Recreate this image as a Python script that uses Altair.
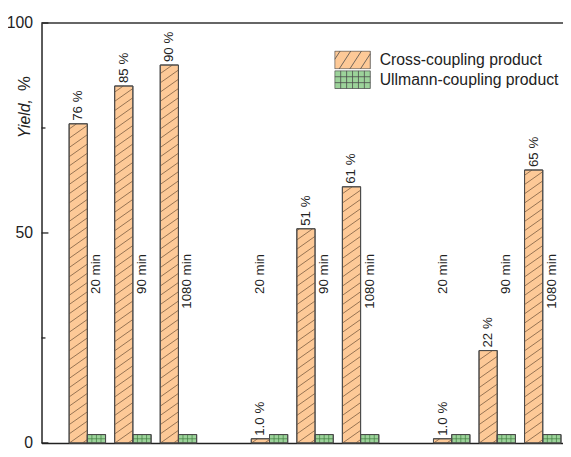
import altair as alt
import pandas as pd

# ---------------- data ----------------
groups = ["Catalyst 1", "Catalyst 2", "Catalyst 3"]
times = ["20 min", "90 min", "1080 min"]
cross = [76, 85, 90, 1.0, 51, 61, 1.0, 22, 65]
ullmann = [2, 2, 2, 2, 2, 2, 2, 2, 2]
cross_labels = ["76 %", "85 %", "90 %", "1.0 %", "51 %", "61 %", "1.0 %", "22 %", "65 %"]
series = ["Cross-coupling product", "Ullmann-coupling product"]
y_major = [0, 50, 100]
y_minor = [25, 75]

# ---------------- styles ----------------
FONT = "Liberation Sans"
ORANGE = "#FDC997"
GREEN = "#9CD39A"
EDGE = "#4a4a4a"
HATCH = "#7a5c40"
GRIDC = "#3f7d3f"
TXT = "#222222"
BAR_W = 0.4
TIME_Y = 45
RISE = 3.05
GAP = 2.2

rows = []
for gi, g in enumerate(groups):
    for ti, t in enumerate(times):
        i = gi * len(times) + ti
        slot = gi * (len(times) + 1) + ti
        rows.append(dict(
            group=g, time=t, slot=slot,
            xo0=slot - BAR_W, xo1=slot, xg0=slot, xg1=slot + BAR_W,
            cross=cross[i], ullmann=ullmann[i], plabel=cross_labels[i],
            px=slot - BAR_W / 2,
            tx=(slot - BAR_W / 2) if cross[i] < 5 else (slot + BAR_W / 2),
            ty=TIME_Y, zero=0,
        ))
df = pd.DataFrame(rows)

# hatch lines for cross-coupling bars
hatch = []
for r in rows:
    v = r["cross"]
    x0 = r["xo0"]
    yl = -RISE + 0.8
    while yl < v:
        xs_, ys_ = x0, yl
        xe_, ye_ = x0 + BAR_W, yl + RISE
        if ys_ < 0:
            xs_ = x0 + (0 - yl) / RISE * BAR_W
            ys_ = 0
        if ye_ > v:
            xe_ = x0 + (v - yl) / RISE * BAR_W
            ye_ = v
        if xe_ > xs_ + 1e-6:
            hatch.append(dict(a=xs_, b=xe_, c=ys_, d=ye_))
        yl += GAP
hatch_df = pd.DataFrame(hatch)

# grid lines for Ullmann bars
grid = []
for r in rows:
    u = r["ullmann"]
    for k in (1, 2, 3):
        xx = r["xg0"] + BAR_W * k / 4
        grid.append(dict(a=xx, b=xx, c=0, d=u))
    grid.append(dict(a=r["xg0"], b=r["xg1"], c=u / 2, d=u / 2))
grid_df = pd.DataFrame(grid)


# legend symbol paths
def hatch_path(run=0.65, step=0.6):
    parts = ["M-1,-0.5H1V0.5H-1Z"]
    c = -1 - run + step / 2
    while c < 1:
        x1, y1 = c, 0.5
        x2, y2 = c + run, -0.5
        if x1 < -1:
            y1 = 0.5 - (-1 - c) / run
            x1 = -1
        if x2 > 1:
            y2 = 0.5 - (1 - c) / run
            x2 = 1
        if x2 > x1:
            parts.append(f"M{x1:.3f},{y1:.3f}L{x2:.3f},{y2:.3f}")
        c += step
    return "".join(parts)


def grid_path():
    parts = ["M-1,-0.5H1V0.5H-1Z"]
    for k in range(1, 6):
        x = -1 + k / 3
        parts.append(f"M{x:.3f},-0.5L{x:.3f},0.5")
    for j in (1, 2):
        y = -0.5 + j / 3
        parts.append(f"M-1,{y:.3f}L1,{y:.3f}")
    return "".join(parts)


xs = alt.Scale(domain=[-1.006, 10.444], nice=False, zero=False)
ys = alt.Scale(domain=[0, 100], nice=False, zero=False)

x_axis = alt.Axis(labels=False, ticks=False, domain=True, grid=False, title=None,
                  domainColor=TXT, domainWidth=1.5)
y_axis = alt.Axis(values=y_major, ticks=False, tickSize=0, labelPadding=9,
                  labelFontSize=16, labelFont=FONT, labelColor=TXT,
                  domainColor=TXT, domainWidth=1.5, grid=False, title=None)


def X(f):
    return alt.X(f, scale=xs, axis=x_axis)


def Y(f):
    return alt.Y(f, scale=ys, axis=y_axis)


base = alt.Chart(df)

bars_c = base.mark_bar(fill=ORANGE, stroke=EDGE, strokeWidth=1).encode(
    x=X("xo0:Q"), x2="xo1:Q", y=Y("cross:Q"), y2="zero:Q",
)
bars_u = base.mark_bar(fill=GREEN, stroke=EDGE, strokeWidth=1).encode(
    x=X("xg0:Q"), x2="xg1:Q", y=Y("ullmann:Q"), y2="zero:Q",
)

hatch_l = alt.Chart(hatch_df).mark_rule(color=HATCH, strokeWidth=0.8).encode(
    x=X("a:Q"), x2="b:Q", y=Y("c:Q"), y2="d:Q",
)
grid_l = alt.Chart(grid_df).mark_rule(color=GRIDC, strokeWidth=0.7).encode(
    x=X("a:Q"), x2="b:Q", y=Y("c:Q"), y2="d:Q",
)

# bar outlines above the hatching
edge_c = base.mark_bar(fill=None, stroke=EDGE, strokeWidth=1, filled=False).encode(
    x=X("xo0:Q"), x2="xo1:Q", y=Y("cross:Q"), y2="zero:Q",
)
edge_u = base.mark_bar(fill=None, stroke=EDGE, strokeWidth=1, filled=False).encode(
    x=X("xg0:Q"), x2="xg1:Q", y=Y("ullmann:Q"), y2="zero:Q",
)

pct = base.mark_text(angle=270, align="left", baseline="middle", dx=3,
                     fontSize=13.5, font=FONT, color=TXT).encode(
    x=X("px:Q"), y=Y("cross:Q"), text="plabel:N",
)
tlab = base.mark_text(angle=270, align="right", baseline="middle",
                      fontSize=13.5, font=FONT, color=TXT).encode(
    x=X("tx:Q"), y=Y("ty:Q"), text="time:N",
)

top_df = pd.DataFrame({"top": [max(y_major)]})
top_rule = alt.Chart(top_df).mark_rule(color="#333333", strokeWidth=1.5).encode(
    y=Y("top:Q")
)

maj_df = pd.DataFrame({"v": y_major})
min_df = pd.DataFrame({"v": y_minor})
ticks_major = alt.Chart(maj_df).mark_rule(color=TXT, strokeWidth=1.3).encode(
    y=Y("v:Q"), x=alt.value(0), x2=alt.value(7)
)
ticks_minor = alt.Chart(min_df).mark_rule(color=TXT, strokeWidth=1.3).encode(
    y=Y("v:Q"), x=alt.value(0), x2=alt.value(4)
)

title1 = alt.Chart(pd.DataFrame({"t": ["Yield,"]})).mark_text(
    angle=270, align="left", baseline="middle", fontStyle="italic",
    fontSize=16, font=FONT, color=TXT).encode(
    x=alt.value(-17), y=alt.value(117), text="t:N")
title2 = alt.Chart(pd.DataFrame({"t": ["%"]})).mark_text(
    angle=270, align="left", baseline="middle",
    fontSize=17, font=FONT, color=TXT).encode(
    x=alt.value(-17), y=alt.value(69), text="t:N")

legend = alt.Legend(
    orient="none", legendX=297, legendY=28, title=None,
    symbolSize=1296, symbolStrokeColor=EDGE, symbolStrokeWidth=0.8,
    symbolOpacity=1, labelFontSize=16, labelFont=FONT, labelColor=TXT,
    labelOffset=9, labelLimit=400, rowPadding=1, clipHeight=19, padding=0,
)

leg_pts = alt.Chart(pd.DataFrame({"series": series})).mark_point(
    filled=True, strokeWidth=0.8).encode(
    x=alt.value(-500), y=alt.value(-500),
    fill=alt.Fill("series:N", scale=alt.Scale(domain=series, range=[ORANGE, GREEN]),
                  legend=legend),
    stroke=alt.Stroke("series:N", scale=alt.Scale(domain=series, range=[EDGE, EDGE]),
                      legend=legend),
    shape=alt.Shape("series:N",
                    scale=alt.Scale(domain=series, range=[hatch_path(), grid_path()]),
                    legend=legend),
)

chart = alt.layer(
    bars_c, bars_u, hatch_l, grid_l, edge_c, edge_u, pct, tlab,
    top_rule, ticks_major, ticks_minor, title1, title2, leg_pts,
).properties(
    width=529, height=426,
    padding={"left": 34, "top": 12, "right": 0, "bottom": 9},
    autosize=alt.AutoSizeParams(type="none"),
).configure_view(stroke=None)

chart.save("out.html", embed_options={"renderer": "svg", "actions": False})
